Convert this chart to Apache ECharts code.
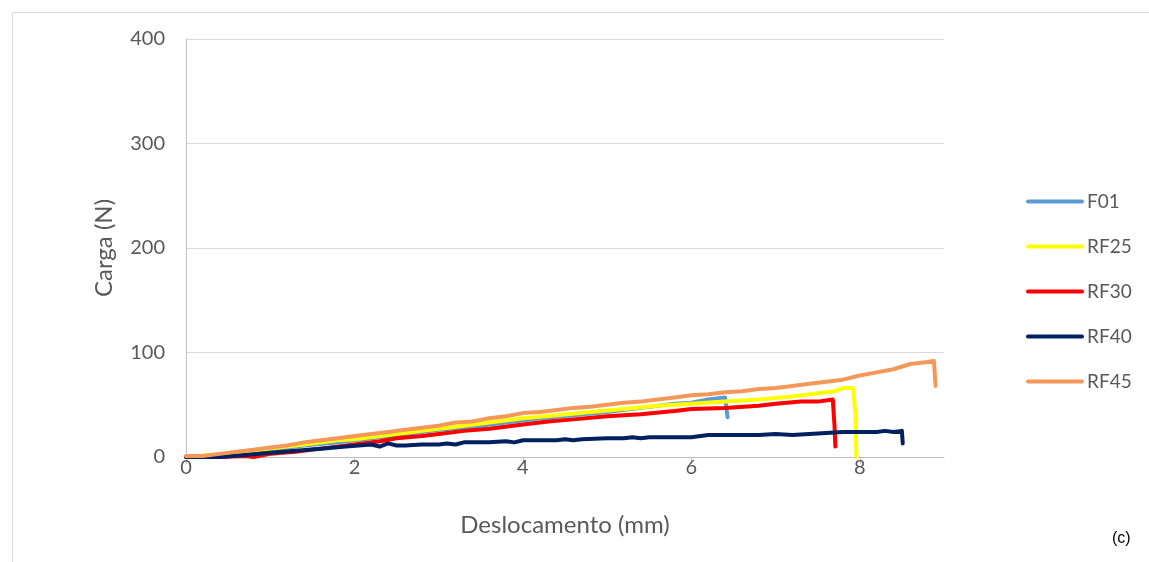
<!DOCTYPE html>
<html>
<head>
<meta charset="utf-8">
<script src="https://cdn.jsdelivr.net/npm/echarts@6/dist/echarts.min.js"></script>
<style>
html,body{margin:0;padding:0;background:#fff;}
#chart{width:1149px;height:562px;}
</style>
</head>
<body>
<div id="chart"></div>
<script>
var seriesNames = ['F01', 'RF25', 'RF30', 'RF40', 'RF45'];
var seriesColors = ['#5B9BD5', '#FFFF00', '#FF0000', '#002060', '#F4985A'];
var yTicks = [0, 100, 200, 300, 400];
var xTicks = [0, 2, 4, 6, 8];

var F01 = [[0,0],[0.3,1],[0.6,3],[1.0,7],[1.4,11],[1.8,14],[2.2,18],[2.6,22],[3.0,26],[3.4,29],[3.8,33],[4.2,37],[4.6,40],[5.0,43],[5.4,47],[5.8,51],[6.0,52],[6.2,55],[6.4,57],[6.43,38]];
var RF25 = [[0,0],[0.3,2],[0.6,4],[1.0,8],[1.4,12],[1.8,16],[2.0,17],[2.4,21],[2.8,25],[3.2,29],[3.6,33],[4.0,37],[4.4,40],[4.8,43],[5.2,46],[5.6,49],[6.0,51],[6.4,53],[6.8,55],[7.2,58],[7.5,61],[7.7,63],[7.8,66],[7.92,66],[7.95,40],[7.96,0]];
var RF30 = [[0,0],[0.4,0],[0.7,1],[0.8,0],[1.0,3],[1.3,5],[1.6,8],[2.0,12],[2.3,15],[2.5,18],[2.8,20],[3.0,22],[3.3,25],[3.6,27],[4.0,31],[4.3,34],[4.6,36],[5.0,39],[5.4,41],[5.8,44],[6.0,46],[6.4,47],[6.8,49],[7.0,51],[7.3,53],[7.5,53],[7.68,55],[7.70,30],[7.71,10]];
var RF40 = [[0,0],[0.4,0],[0.7,2],[1.0,4],[1.3,6],[1.6,8],[1.9,10],[2.2,12],[2.3,10],[2.4,13],[2.5,11],[2.6,11],[2.8,12],[3.0,12],[3.1,13],[3.2,12],[3.3,14],[3.6,14],[3.8,15],[3.9,14],[4.0,16],[4.4,16],[4.5,17],[4.6,16],[4.7,17],[5.0,18],[5.2,18],[5.3,19],[5.4,18],[5.5,19],[6.0,19],[6.2,21],[6.8,21],[7.0,22],[7.2,21],[7.4,22],[7.6,23],[7.8,24],[8.2,24],[8.3,25],[8.4,24],[8.5,25],[8.51,13]];
var RF45 = [[0,1],[0.2,1],[0.4,3],[0.6,5],[0.8,7],[1.0,9],[1.2,11],[1.4,14],[1.6,16],[1.8,18],[2.0,20],[2.2,22],[2.4,24],[2.6,26],[2.8,28],[3.0,30],[3.2,33],[3.4,34],[3.6,37],[3.8,39],[4.0,42],[4.2,43],[4.4,45],[4.6,47],[4.8,48],[5.0,50],[5.2,52],[5.4,53],[5.6,55],[5.8,57],[6.0,59],[6.2,60],[6.4,62],[6.6,63],[6.8,65],[7.0,66],[7.2,68],[7.4,70],[7.6,72],[7.8,74],[8.0,78],[8.2,81],[8.4,84],[8.6,89],[8.8,91],[8.88,92],[8.9,68]];
var allData = [F01, RF25, RF30, RF40, RF45];

var FONT = 'Lato';
var chart = echarts.init(document.getElementById('chart'), null, {renderer: 'canvas'});
var option = {
  backgroundColor: '#fff',
  animation: false,
  graphic: [
    {type: 'rect', left: 10, top: 10, shape: {x: 0, y: 0, width: 1200, height: 600}, style: {fill: null, stroke: '#d9d9d9', lineWidth: 1}, silent: true, z: -10},
    {type: 'text', left: 1112, top: 531, style: {text: '(c)', font: '16px "Liberation Sans"', fill: '#000'}}
  ],
  grid: {left: 186, right: 205, top: 39, bottom: 105, containLabel: false},
  legend: {
    orient: 'vertical', left: 1021, top: 187,
    itemWidth: 54, itemHeight: 14, itemGap: 26,
    data: seriesNames,
    itemStyle: {opacity: 0},
    lineStyle: {width: 4, cap: 'round'},
    textStyle: {fontFamily: FONT, fontSize: 19, color: '#595959', lineHeight: 19}
  },
  xAxis: {
    type: 'value', min: 0, max: 9, interval: 2,
    name: 'Deslocamento (mm)', nameLocation: 'middle', nameGap: 56,
    nameTextStyle: {fontFamily: FONT, fontSize: 24, color: '#595959'},
    axisLine: {show: true, lineStyle: {color: '#bfbfbf', width: 1}},
    axisTick: {show: true, length: 7, lineStyle: {color: '#bfbfbf'}},
    axisLabel: {fontFamily: FONT, fontSize: 20, color: '#595959', margin: 1, showMaxLabel: false,
      formatter: function(v){ return xTicks.indexOf(v) >= 0 ? String(v) : ''; }},
    splitLine: {show: false}
  },
  yAxis: {
    type: 'value', min: 0, max: 400, interval: 100,
    name: 'Carga (N)', nameLocation: 'middle', nameGap: 70,
    nameTextStyle: {fontFamily: FONT, fontSize: 24, color: '#595959'},
    axisLine: {show: true, lineStyle: {color: '#bfbfbf', width: 1}},
    axisTick: {show: false},
    axisLabel: {fontFamily: FONT, fontSize: 20, color: '#595959', margin: 21,
      formatter: function(v){ return yTicks.indexOf(v) >= 0 ? String(v) : ''; }},
    splitLine: {show: true, lineStyle: {color: '#d9d9d9', width: 1}}
  },
  series: seriesNames.map(function(n, i){
    return {
      name: n, type: 'line', data: allData[i],
      symbol: 'none', showSymbol: false,
      lineStyle: {color: seriesColors[i], width: 4, cap: 'round', join: 'round'},
      itemStyle: {color: seriesColors[i]},
      z: 2 + i
    };
  })
};
chart.setOption(option);
</script>
</body>
</html>
